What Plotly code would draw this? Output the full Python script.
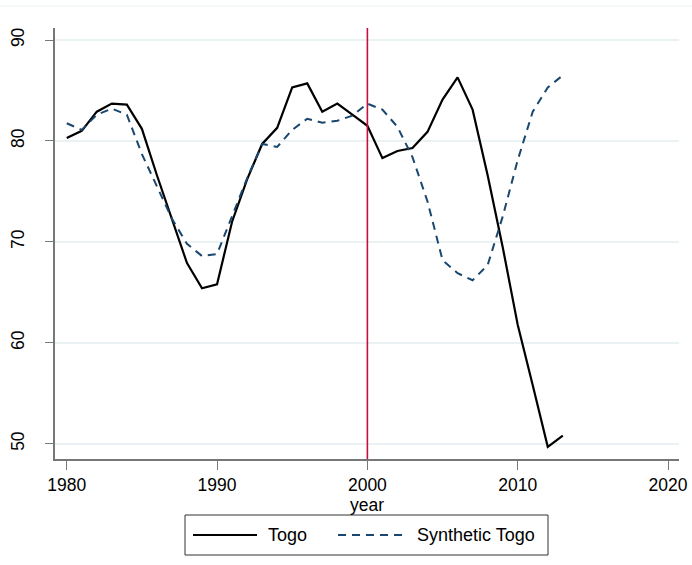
import plotly.graph_objects as go

# Annual values, 1980-2013
years = list(range(1980, 2014))

togo = [80.3, 81.0, 82.9, 83.7, 83.6, 81.2, 76.6, 72.3, 67.9, 65.4,
        65.8, 72.0, 76.2, 79.7, 81.3, 85.3, 85.7, 82.9, 83.7, 82.6,
        81.5, 78.3, 79.0, 79.3, 80.9, 84.1, 86.3, 83.1, 76.6, 69.5,
        61.8, 55.8, 49.7, 50.8]

synthetic_togo = [81.75, 81.1, 82.6, 83.2, 82.6, 78.7, 75.5, 72.3, 69.8, 68.6,
                  68.8, 72.5, 76.3, 79.7, 79.4, 81.1, 82.2, 81.8, 82.0, 82.5,
                  83.7, 83.1, 81.4, 78.4, 74.0, 68.2, 66.9, 66.2, 67.7, 72.5,
                  78.1, 82.9, 85.3, 86.5]

series_names = ["Togo", "Synthetic Togo"]
treatment_year = 2000
x_ticks = [1980, 1990, 2000, 2010, 2020]
y_ticks = [50, 60, 70, 80, 90]

FONT = "Liberation Sans, Arial, sans-serif"
NAVY = "#1a476f"
GRID = "#eaf2f3"
AXIS = "#777777"
DASH = "8px,6px"

# plot-area geometry in pixels (used to place the legend box below it)
W, H = 692, 565
L, R, T, B = 55, 13, 28, 106
PW, PH = W - L - R, H - T - B


def px_x(p):
    return (p - L) / PW


def px_y(p):
    return (H - B - p) / PH


fig = go.Figure()
fig.add_trace(go.Scatter(
    x=years, y=togo, mode="lines", name=series_names[0],
    line=dict(color="black", width=2.2), showlegend=False,
))
fig.add_trace(go.Scatter(
    x=years, y=synthetic_togo, mode="lines", name=series_names[1],
    line=dict(color=NAVY, width=2, dash=DASH), showlegend=False,
))

# vertical reference line at the treatment year
fig.add_shape(type="line", xref="x", yref="paper",
              x0=treatment_year, x1=treatment_year, y0=0, y1=1,
              line=dict(color="#c4103d", width=1.6), layer="above")

# thin outer border line at the very top
fig.add_shape(type="line", xref="paper", yref="paper",
              x0=px_x(0), x1=px_x(W), y0=px_y(6), y1=px_y(6),
              line=dict(color=GRID, width=1.2), layer="below")

# legend: box, line samples and labels
fig.add_shape(type="rect", xref="paper", yref="paper",
              x0=px_x(185), x1=px_x(548), y0=px_y(555), y1=px_y(515),
              line=dict(color="#333333", width=1), fillcolor="white")
ly = px_y(535)
fig.add_shape(type="line", xref="paper", yref="paper",
              x0=px_x(193), x1=px_x(257), y0=ly, y1=ly,
              line=dict(color="black", width=2.2))
fig.add_shape(type="line", xref="paper", yref="paper",
              x0=px_x(338), x1=px_x(408), y0=ly, y1=ly,
              line=dict(color=NAVY, width=2, dash=DASH))
for label, left in zip(series_names, [266, 415]):
    fig.add_annotation(xref="paper", yref="paper", x=px_x(left), y=ly,
                       text=label, showarrow=False, xanchor="left", yanchor="middle",
                       font=dict(family=FONT, size=18, color="black"))

fig.update_layout(
    width=W, height=H,
    margin=dict(l=L, r=R, t=T, b=B),
    paper_bgcolor="white", plot_bgcolor="white",
    font=dict(family=FONT, color="black", size=17.5),
    showlegend=False,
)

fig.update_xaxes(
    range=[1979.22, 2020.73], tickvals=x_ticks, automargin=False,
    showgrid=False, zeroline=False,
    showline=True, linecolor=AXIS, linewidth=2,
    ticks="outside", ticklen=9, tickwidth=1.2, tickcolor=AXIS,
    tickfont=dict(size=17.5),
    title=dict(text="year", font=dict(size=17.5), standoff=2),
)
fig.update_yaxes(
    range=[48.49, 91.19], tickvals=y_ticks, automargin=False,
    showgrid=True, gridcolor=GRID, gridwidth=1.5, zeroline=False,
    showline=True, linecolor=AXIS, linewidth=2,
    ticks="outside", ticklen=8, tickwidth=1.2, tickcolor=AXIS,
    tickangle=-90, tickfont=dict(size=17.5), ticklabelstandoff=14,
)

fig.write_html("out.html")
